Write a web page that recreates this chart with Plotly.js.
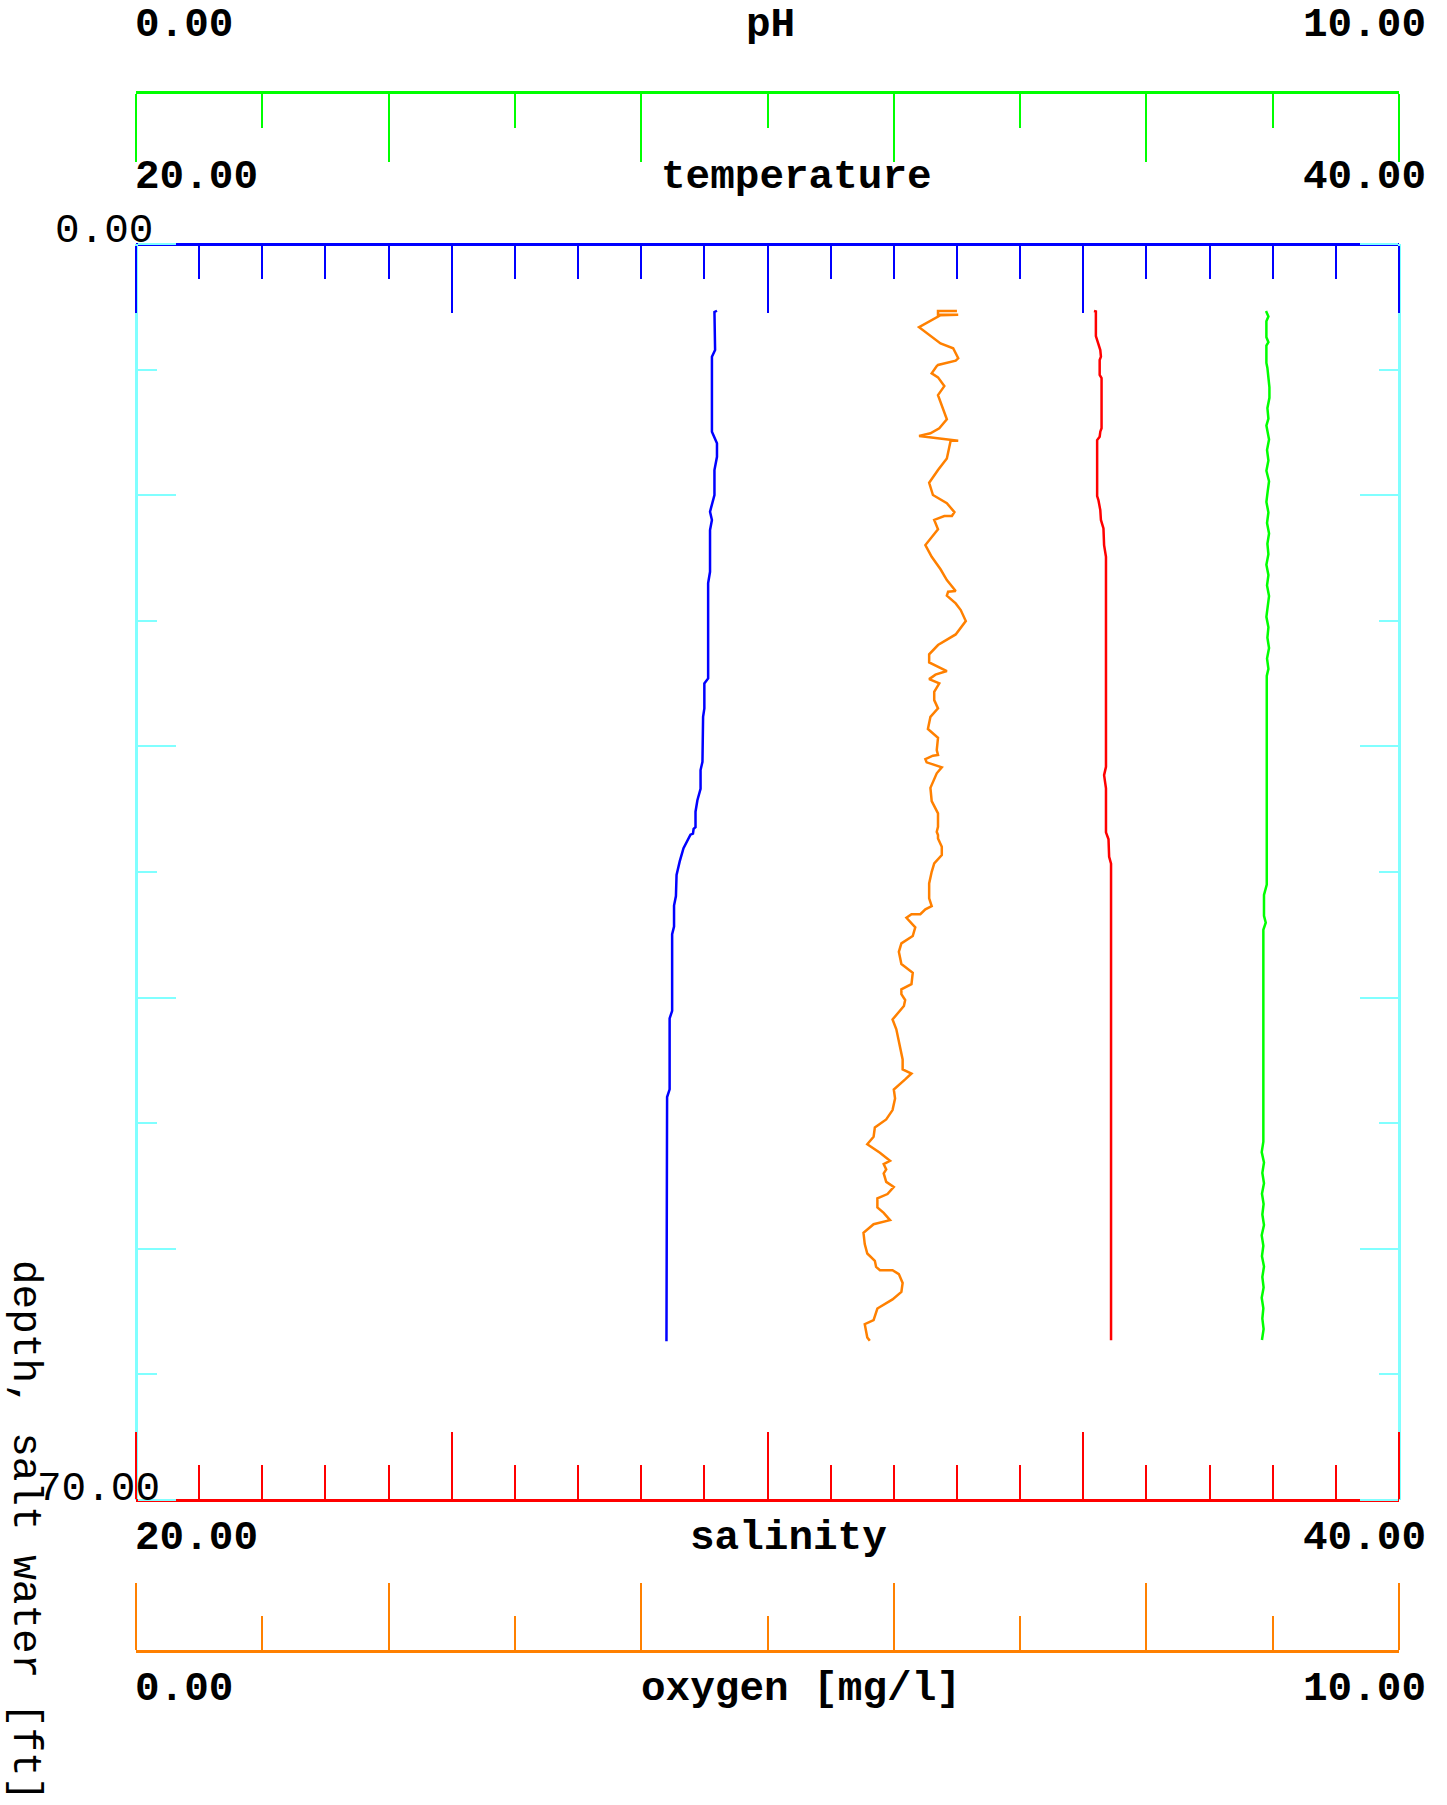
<!DOCTYPE html>
<html><head><meta charset="utf-8">
<script src="https://cdn.plot.ly/plotly-3.0.1.min.js"></script>
<style>html,body{margin:0;padding:0;background:#fff;} #chart{width:1447px;height:1805px;}</style>
</head><body><div id="chart"></div>
<script>
// ---- data ----
const depthTemp = [3.72, 3.79, 5.91, 6.28, 10.46, 10.74, 11.11, 11.86, 12.60, 13.99, 14.92, 15.38, 15.94, 18.27, 18.90, 24.21, 24.49, 25.88, 26.35, 28.86, 29.32, 30.36, 31.00, 31.64, 32.50, 32.60, 32.86, 32.92, 33.24, 33.67, 34.41, 35.16, 36.34, 36.87, 38.04, 38.47, 42.74, 43.16, 47.11, 47.54, 61.15];
const temperature = [29.20, 29.16, 29.17, 29.12, 29.12, 29.16, 29.20, 29.20, 29.16, 29.16, 29.09, 29.12, 29.09, 29.09, 29.06, 29.06, 29.00, 29.00, 28.98, 28.97, 28.94, 28.94, 28.89, 28.86, 28.86, 28.83, 28.82, 28.78, 28.73, 28.67, 28.61, 28.56, 28.55, 28.52, 28.52, 28.49, 28.49, 28.45, 28.45, 28.41, 28.40];

const depthSal = [3.73, 3.76, 5.13, 5.52, 5.91, 6.28, 6.47, 7.30, 7.47, 10.27, 10.46, 10.74, 10.93, 14.05, 14.27, 14.83, 15.38, 15.85, 16.78, 17.43, 29.14, 29.60, 30.34, 32.79, 33.18, 34.15, 34.53, 61.09];
const salinity = [35.17, 35.20, 35.20, 35.24, 35.27, 35.28, 35.26, 35.26, 35.29, 35.29, 35.27, 35.26, 35.22, 35.22, 35.24, 35.27, 35.28, 35.32, 35.33, 35.36, 35.36, 35.33, 35.36, 35.36, 35.40, 35.41, 35.44, 35.44];

const depthPH = [3.73, 4.04, 4.31, 5.20, 5.47, 5.66, 6.63, 6.91, 7.99, 8.57, 9.15, 9.73, 10.12, 10.51, 10.90, 11.48, 12.06, 12.64, 13.22, 13.80, 14.38, 14.96, 15.55, 16.13, 16.71, 17.29, 17.87, 18.45, 19.03, 19.62, 20.20, 20.78, 21.36, 21.94, 22.52, 23.10, 23.68, 24.07, 35.70, 36.28, 37.44, 37.83, 38.22, 38.80, 50.03, 50.61, 51.19, 51.77, 52.35, 52.93, 53.51, 54.09, 54.67, 55.25, 55.83, 56.41, 56.99, 57.57, 58.15, 58.73, 59.31, 59.89, 60.47, 61.08];
const pH = [8.947, 8.966, 8.950, 8.950, 8.966, 8.950, 8.950, 8.958, 8.974, 8.974, 8.958, 8.966, 8.950, 8.958, 8.971, 8.955, 8.966, 8.950, 8.971, 8.960, 8.950, 8.966, 8.955, 8.971, 8.958, 8.966, 8.950, 8.966, 8.955, 8.971, 8.958, 8.950, 8.966, 8.958, 8.971, 8.955, 8.966, 8.953, 8.953, 8.931, 8.931, 8.945, 8.926, 8.926, 8.926, 8.913, 8.931, 8.918, 8.931, 8.915, 8.928, 8.918, 8.931, 8.913, 8.926, 8.915, 8.931, 8.918, 8.928, 8.913, 8.926, 8.918, 8.928, 8.915];

const depthOxy = [3.73, 3.73, 3.94, 3.94, 3.97, 4.64, 5.54, 5.81, 6.37, 6.50,
 6.74, 6.80, 7.21, 7.43, 7.92, 8.42, 9.77, 10.27, 10.55, 10.70,
 10.96, 10.96, 11.95, 12.60, 13.31, 13.99, 14.45, 14.94, 15.16, 15.16,
 15.38, 15.90, 16.78, 17.43, 18.13, 18.73, 19.34, 19.38, 19.60, 20.03,
 20.40, 21.01, 21.76, 22.35, 22.87, 23.32, 23.80, 24.00, 24.25, 24.49,
 24.96, 25.42, 25.88, 26.35, 27.03, 27.52, 28.21, 28.48, 28.52, 28.71,
 28.89, 29.17, 29.50, 30.31, 31.05, 31.73, 32.48, 32.76, 32.94, 33.13,
 33.59, 34.06, 34.52, 34.99, 35.64, 36.47, 36.90, 37.08, 37.35, 37.35,
 37.55, 38.09, 38.57, 38.98, 39.45, 40.13, 40.62, 41.25, 41.54, 41.81,
 42.14, 42.47, 42.79, 43.22, 43.77, 44.74, 45.45, 46.00, 46.23, 46.56,
 47.12, 47.62, 48.27, 48.79, 49.24, 49.76, 50.17, 50.65, 51.10, 51.28,
 51.58, 51.80, 52.27, 52.55, 52.95, 53.19, 53.70, 54.00, 54.40, 54.63,
 55.11, 55.74, 56.26, 56.67, 57.01, 57.19, 57.19, 57.41, 57.90, 58.40,
 58.82, 59.33, 59.98, 60.20, 60.94, 61.13];
const oxygen = [6.50, 6.35, 6.35, 6.51, 6.37, 6.20, 6.37, 6.47, 6.51, 6.49,
 6.35, 6.34, 6.30, 6.35, 6.40, 6.35, 6.42, 6.36, 6.29, 6.20,
 6.51, 6.45, 6.42, 6.35, 6.28, 6.31, 6.42, 6.48, 6.46, 6.40,
 6.32, 6.35, 6.25, 6.30, 6.37, 6.42, 6.49, 6.43, 6.42, 6.49,
 6.53, 6.57, 6.49, 6.35, 6.28, 6.28, 6.42, 6.33, 6.28, 6.36,
 6.32, 6.32, 6.35, 6.29, 6.27, 6.35, 6.34, 6.35, 6.31, 6.25,
 6.26, 6.38, 6.34, 6.29, 6.30, 6.35, 6.35, 6.34, 6.35, 6.35,
 6.38, 6.38, 6.32, 6.30, 6.28, 6.28, 6.30, 6.25, 6.21, 6.14,
 6.10, 6.17, 6.15, 6.06, 6.04, 6.06, 6.15, 6.14, 6.06, 6.06,
 6.09, 6.08, 6.04, 5.99, 6.02, 6.05, 6.07, 6.07, 6.14, 6.09,
 6.00, 6.01, 5.99, 5.94, 5.85, 5.84, 5.79, 5.89, 5.97, 5.92,
 5.94, 5.92, 5.94, 6.00, 5.95, 5.87, 5.87, 5.92, 5.97, 5.84,
 5.76, 5.77, 5.79, 5.85, 5.86, 5.89, 5.99, 6.04, 6.07, 6.06,
 5.99, 5.87, 5.84, 5.77, 5.79, 5.81];

// axis ranges and tick labels
const tempRange = [20, 40], salRange = [20, 40], phRange = [0, 10], oxyRange = [0, 10], depthRange = [70, 0];
const tempLabels = ['20.00', 'temperature', '40.00'];
const salLabels = ['20.00', 'salinity', '40.00'];
const phLabels = ['0.00', 'pH', '10.00'];
const oxyLabels = ['0.00', 'oxygen [mg/l]', '10.00'];
const depthLabels = ['0.00', '70.00'];
const depthTitle = 'depth, salt water [ft]';

// ---- layout geometry (pixels) ----
const W = 1447, H = 1805;
const L = 136, R = 1399, T = 92, B = 1651;   // paper box
const PT = 244, PB = 1500;                   // data area top/bottom
const xp = px => (px - L) / (R - L);
const yp = py => (B - py) / (B - T);

const BLUE = '#0000ff', RED = '#ff0000', GREEN = '#00ff00', ORANGE = '#ff8000', CYAN = '#80ffff';
const FONT = 'Liberation Mono, Courier New, monospace';

// ticks are drawn 'outside' of a flipped side so they point towards the data area
function xAxis(color, range, dtick, minorDtick, len, minorLen, side, pos, extra) {
  return Object.assign({
    range: range, tickmode: 'linear', tick0: range[0], dtick: dtick,
    ticks: 'outside', ticklen: len, tickwidth: 2, tickcolor: color,
    minor: {dtick: minorDtick, tick0: range[0], ticks: 'outside', ticklen: minorLen, tickwidth: 2, tickcolor: color, showgrid: false},
    showline: true, linecolor: color, linewidth: 3,
    showgrid: false, zeroline: false, showticklabels: false,
    side: side, anchor: 'free', position: pos, domain: [0, 1], fixedrange: true
  }, extra || {});
}
function yAxis(side, pos, extra) {
  return Object.assign({
    range: depthRange, tickmode: 'linear', tick0: 0, dtick: 14,
    ticks: 'outside', ticklen: 38, tickwidth: 2, tickcolor: CYAN,
    minor: {dtick: 7, tick0: 0, ticks: 'outside', ticklen: 19, tickwidth: 2, tickcolor: CYAN, showgrid: false},
    showline: true, linecolor: CYAN, linewidth: 3,
    showgrid: false, zeroline: false, showticklabels: false,
    anchor: 'free', position: pos, side: side, domain: [yp(PB), yp(PT)], fixedrange: true
  }, extra || {});
}

const layout = {
  width: W, height: H,
  margin: {l: L, r: W - R, t: T, b: H - B, pad: 0},
  paper_bgcolor: '#ffffff', plot_bgcolor: '#ffffff',
  showlegend: false,
  xaxis: xAxis(BLUE, tempRange, 5, 1, 67, 33, 'bottom', yp(PT)),
  xaxis2: xAxis(RED, salRange, 5, 1, 67, 34, 'top', yp(PB), {overlaying: 'x'}),
  xaxis3: xAxis(GREEN, phRange, 2, 1, 68, 34, 'bottom', 1, {overlaying: 'x'}),
  xaxis4: xAxis(ORANGE, oxyRange, 2, 1, 67, 34, 'top', 0, {overlaying: 'x'}),
  yaxis: yAxis('right', 0),
  yaxis2: yAxis('left', 1, {overlaying: 'y'}),
  annotations: []
};

function ann(text, px, py, xanchor, bold, extra) {
  return Object.assign({
    text: text, xref: 'paper', yref: 'paper', x: xp(px), y: yp(py),
    xanchor: xanchor, yanchor: 'middle', showarrow: false,
    font: {family: FONT, size: 41, color: '#000000', weight: bold ? 700 : 400}
  }, extra || {});
}
const rows = [
  [phLabels, 24.5, 747.5],
  [tempLabels, 176.5, 662.6],
  [salLabels, 1538, 692],
  [oxyLabels, 1689, 643]
];
rows.forEach(r => {
  const labels = r[0], y = r[1], tx = r[2];
  layout.annotations.push(ann(labels[0], 132.6, y, 'left', true));
  layout.annotations.push(ann(labels[1], tx - 4, y, 'left', true));
  layout.annotations.push(ann(labels[2], 1428, y, 'right', true));
});
layout.annotations.push(ann(depthLabels[0], 52.7, 231, 'left', false));
layout.annotations.push(ann(depthLabels[1], 34.8, 1488.6, 'left', false));
layout.annotations.push(ann(depthTitle, 25, 1530, 'center', false, {textangle: 90}));

const lineW = 2.5;
const traces = [
  {x: temperature, y: depthTemp, xaxis: 'x', yaxis: 'y', mode: 'lines', line: {color: BLUE, width: lineW}, name: 'temperature'},
  {x: salinity, y: depthSal, xaxis: 'x2', yaxis: 'y', mode: 'lines', line: {color: RED, width: lineW}, name: 'salinity'},
  {x: pH, y: depthPH, xaxis: 'x3', yaxis: 'y', mode: 'lines', line: {color: GREEN, width: lineW}, name: 'pH'},
  {x: oxygen, y: depthOxy, xaxis: 'x4', yaxis: 'y', mode: 'lines', line: {color: ORANGE, width: lineW}, name: 'oxygen'},
  {x: [], y: [], xaxis: 'x', yaxis: 'y2', mode: 'lines', showlegend: false, hoverinfo: 'skip'}
];

Plotly.newPlot('chart', traces, layout, {staticPlot: true, displayModeBar: false});
</script></body></html>
